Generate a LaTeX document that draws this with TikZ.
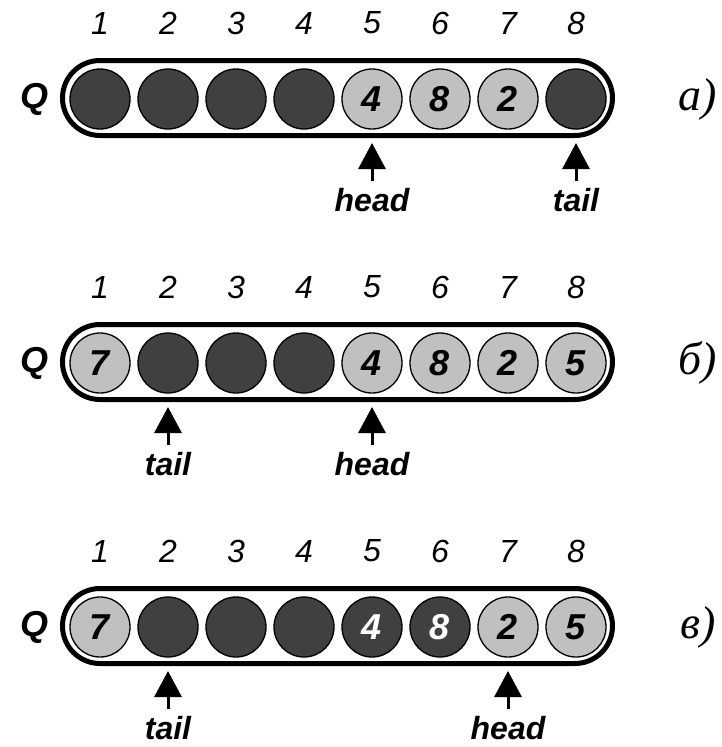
\documentclass[tikz,border=0pt]{standalone}
\usepackage{fontspec}
\setmainfont{Liberation Sans}
\newfontfamily\tnrfont{Liberation Serif}
\usetikzlibrary{arrows.meta}
\definecolor{dk}{HTML}{404040}
\definecolor{lt}{HTML}{C0C0C0}
\newcommand\qpanel[4]{%
  \draw[capsule] (62.5,#2-38.5) rectangle (612.5,#2+36.5);
  \foreach \i/\s/\t in {#3}{
    \node[\s] (#1c\i) at ({100+68*(\i-1)},#2) {\t};
    \node[idx] (#1n\i) at ({100+68*(\i-1)},#2-76) {\i};
  }
  \node[qlab] (#1q) at (35,#2) {Q};
  \node[plab] (#1lab) at (698,#2) {#4};
}
\newcommand\qptr[4]{%
  \coordinate (#1tip) at (#2,#3+44);
  \node[ptrtext,anchor=base] (#1txt) at (#2,#3+112) {#4};
  \draw[ptrarrow] ([yshift=7pt]#1txt.north) -- (#1tip);
}
\begin{document}
\begin{tikzpicture}[x=1pt,y=-1pt,
  cell/.style={circle,draw=black,line width=1.3pt,minimum size=60pt,inner sep=0pt,
    font={\fontsize{36pt}{38pt}\selectfont\bfseries\itshape}},
  dkc/.style={cell,fill=dk,text=white},
  ltc/.style={cell,fill=lt,text=black},
  idx/.style={font={\fontsize{32pt}{34pt}\selectfont\itshape}},
  ptrtext/.style={inner sep=0pt,font={\fontsize{32pt}{34pt}\selectfont\bfseries\itshape}},
  qlab/.style={font={\fontsize{36pt}{38pt}\selectfont\bfseries\itshape}},
  plab/.style={inner sep=1pt,font={\fontsize{46pt}{48pt}\selectfont\tnrfont\itshape}},
  capsule/.style={line width=5pt,rounded corners=37.5pt},
  ptrarrow/.style={-{Triangle[width=27pt,length=26pt]},line width=3pt}]
\useasboundingbox (0,0) rectangle (721,747);
\fill[white] (0,0) rectangle (721,747);
\qpanel{a}{99}{1/dkc/,2/dkc/,3/dkc/,4/dkc/,5/ltc/4,6/ltc/8,7/ltc/2,8/dkc/}{а)}
\qptr{ah}{372}{99}{head}
\qptr{at}{576}{99}{tail}
\qpanel{b}{363}{1/ltc/7,2/dkc/,3/dkc/,4/dkc/,5/ltc/4,6/ltc/8,7/ltc/2,8/ltc/5}{б)}
\qptr{bt}{168}{363}{tail}
\qptr{bh}{372}{363}{head}
\qpanel{c}{627}{1/ltc/7,2/dkc/,3/dkc/,4/dkc/,5/dkc/4,6/dkc/8,7/ltc/2,8/ltc/5}{в)}
\qptr{ct}{168}{627}{tail}
\qptr{ch}{508}{627}{head}
\end{tikzpicture}
\end{document}
